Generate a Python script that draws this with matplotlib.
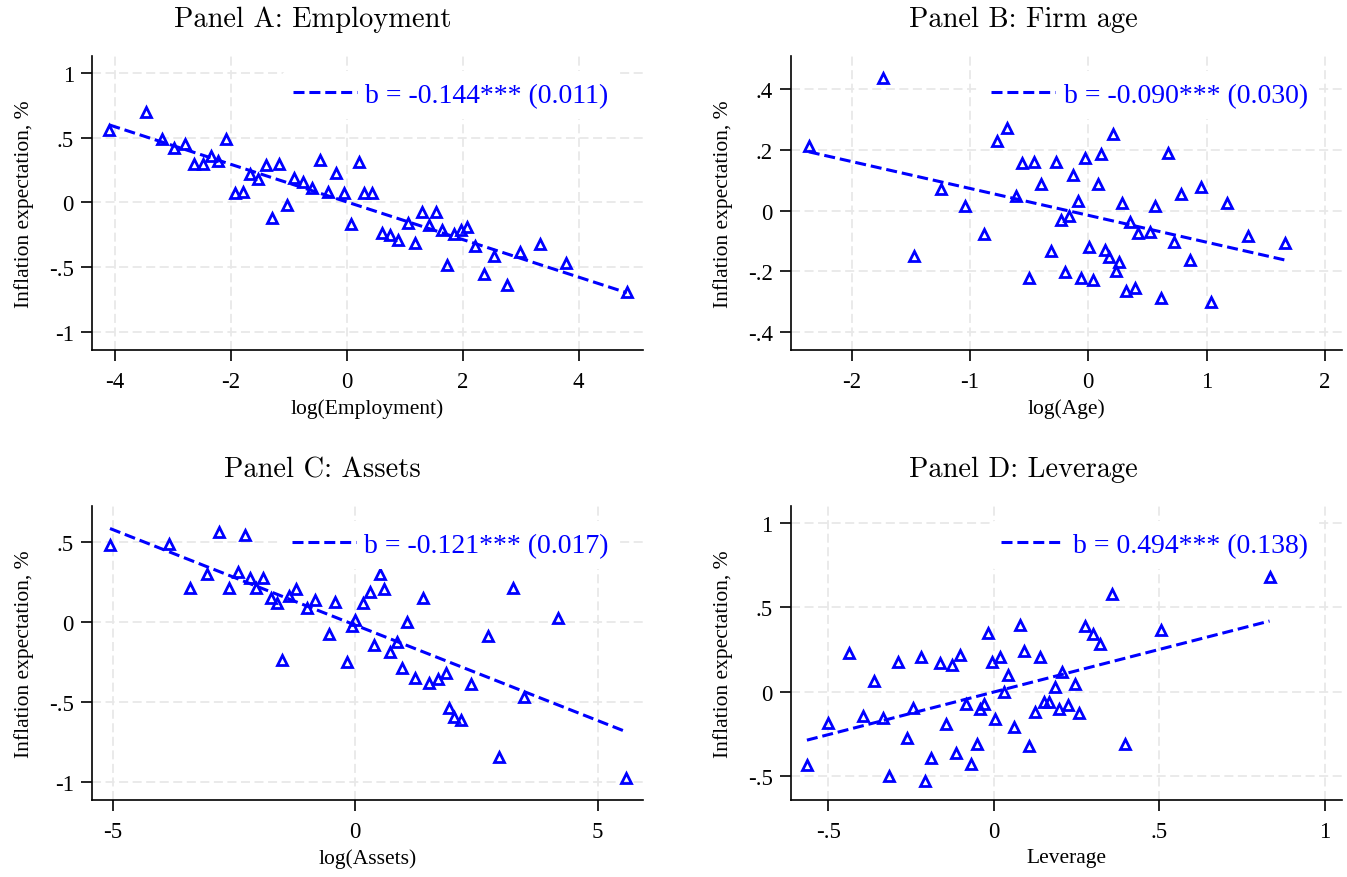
import numpy as np
import matplotlib
matplotlib.use("Agg")
import matplotlib.pyplot as plt
from matplotlib.ticker import FuncFormatter

# binned scatter points
emp_x = [-4.10, -3.47, -3.19, -2.99, -2.79, -2.64, -2.49, -2.35, -2.22, -2.09,
         -1.94, -1.80, -1.68, -1.53, -1.40, -1.30, -1.17, -1.04, -0.92, -0.76,
         -0.61, -0.47, -0.33, -0.19, -0.05, 0.07, 0.20, 0.30, 0.44, 0.60,
         0.74, 0.89, 1.05, 1.18, 1.30, 1.42, 1.53, 1.64, 1.72, 1.84,
         1.97, 2.08, 2.21, 2.37, 2.53, 2.77, 2.98, 3.34, 3.78, 4.83]
emp_y = [0.56, 0.70, 0.49, 0.42, 0.45, 0.30, 0.30, 0.36, 0.32, 0.49,
         0.07, 0.08, 0.22, 0.18, 0.29, -0.12, 0.30, -0.02, 0.19, 0.155,
         0.11, 0.33, 0.08, 0.23, 0.075, -0.165, 0.31, 0.075, 0.075, -0.235,
         -0.25, -0.29, -0.16, -0.31, -0.075, -0.175, -0.075, -0.21, -0.485, -0.24,
         -0.215, -0.19, -0.34, -0.55, -0.41, -0.64, -0.38, -0.32, -0.465, -0.69]

age_x = [-2.363, -1.738, -1.477, -1.243, -1.040, -0.878, -0.773, -0.686, -0.613, -0.559,
         -0.503, -0.456, -0.402, -0.315, -0.273, -0.228, -0.194, -0.160, -0.132, -0.084,
         -0.062, -0.028, 0.008, 0.042, 0.079, 0.107, 0.143, 0.172, 0.206, 0.236,
         0.259, 0.282, 0.318, 0.352, 0.394, 0.419, 0.521, 0.560, 0.611, 0.670,
         0.726, 0.788, 0.864, 0.949, 1.038, 1.171, 1.348, 1.660]
age_y = [0.212, 0.437, -0.150, 0.072, 0.016, -0.076, 0.231, 0.274, 0.049, 0.157,
         -0.221, 0.161, 0.088, -0.133, 0.162, -0.030, -0.203, -0.016, 0.117, 0.033,
         -0.221, 0.173, -0.119, -0.227, 0.088, 0.188, -0.129, -0.152, 0.252, -0.198,
         -0.170, 0.024, -0.266, -0.038, -0.256, -0.074, -0.071, 0.015, -0.289, 0.189,
         -0.103, 0.054, -0.163, 0.077, -0.300, 0.024, -0.084, -0.105]

assets_x = [-5.056, -3.833, -3.412, -3.049, -2.802, -2.602, -2.423, -2.278, -2.169, -2.052,
            -1.901, -1.736, -1.619, -1.503, -1.359, -1.221, -0.988, -0.829, -0.546, -0.416,
            -0.175, -0.066, 0.002, 0.167, 0.305, 0.388, 0.511, 0.600, 0.718, 0.868,
            0.959, 1.062, 1.233, 1.404, 1.528, 1.701, 1.872, 1.940, 2.037, 2.181,
            2.388, 2.732, 2.965, 3.254, 3.487, 4.188, 5.584]
assets_y = [0.484, 0.490, 0.213, 0.302, 0.567, 0.217, 0.313, 0.547, 0.279, 0.217,
            0.279, 0.152, 0.121, -0.236, 0.167, 0.209, 0.088, 0.140, -0.073, 0.127,
            -0.247, -0.021, 0.013, 0.121, 0.192, -0.142, 0.304, 0.208, -0.184, -0.125,
            -0.288, 0.000, -0.351, 0.154, -0.380, -0.357, -0.316, -0.535, -0.591, -0.610,
            -0.386, -0.086, -0.842, 0.215, -0.470, 0.029, -0.977]

lev_x = [-0.565, -0.501, -0.438, -0.396, -0.363, -0.336, -0.317, -0.291, -0.262, -0.245,
         -0.221, -0.207, -0.189, -0.163, -0.145, -0.128, -0.113, -0.103, -0.085, -0.070,
         -0.052, -0.041, -0.030, -0.019, -0.005, 0.004, 0.019, 0.032, 0.043, 0.062,
         0.079, 0.091, 0.105, 0.125, 0.139, 0.150, 0.166, 0.184, 0.198, 0.206,
         0.225, 0.244, 0.256, 0.274, 0.299, 0.321, 0.356, 0.396, 0.504, 0.833]
lev_y = [-0.433, -0.187, 0.231, -0.146, 0.063, -0.154, -0.498, 0.178, -0.273, -0.095,
         0.207, -0.528, -0.395, 0.172, -0.193, 0.158, -0.365, 0.219, -0.071, -0.429,
         -0.308, -0.104, -0.071, 0.348, 0.178, -0.162, 0.204, -0.004, 0.101, -0.207,
         0.395, 0.241, -0.322, -0.122, 0.204, -0.061, -0.061, 0.030, -0.104, 0.119,
         -0.077, 0.046, -0.124, 0.389, 0.344, 0.281, 0.581, -0.312, 0.366, 0.682]

titles = ["Panel A: Employment", "Panel B: Firm age", "Panel C: Assets", "Panel D: Leverage"]
xlabels = ["log(Employment)", "log(Age)", "log(Assets)", "Leverage"]
ylabel = "Inflation expectation, %"
coef_labels = ["b = -0.144*** (0.011)", "b = -0.090*** (0.030)",
               "b = -0.121*** (0.017)", "b = 0.494*** (0.138)"]
xticks = [[-4, -2, 0, 2, 4], [-2, -1, 0, 1, 2], [-5, 0, 5], [-0.5, 0, 0.5, 1]]
yticks = [[-1, -0.5, 0, 0.5, 1], [-0.4, -0.2, 0, 0.2, 0.4], [-1, -0.5, 0, 0.5], [-0.5, 0, 0.5, 1]]
xlims = [(-4.40, 5.11), (-2.516, 2.145), (-5.427, 5.934), (-0.614, 1.052)]
ylims = [(-1.137, 1.131), (-0.458, 0.510), (-1.111, 0.728), (-0.640, 1.101)]

BLUE = "#0000ff"
SERIF = "Liberation Serif"


def stata_fmt(v, pos):
    s = f"{v:g}"
    return s.replace("0.", ".")


def draw_panel(ax, x, y, i):
    x = np.array(x)
    y = np.array(y)
    ax.plot(x, y, linestyle="none", marker="^", ms=7, mfc="none", mec=BLUE, mew=2.0, zorder=3)
    b, a = np.polyfit(x, y, 1)
    xs = np.array([x.min(), x.max()])
    ax.plot(xs, a + b * xs, color=BLUE, lw=2.2, linestyle=(0, (3.6, 1.6)), label=coef_labels[i], zorder=4)

    ax.set_xlim(xlims[i])
    ax.set_ylim(ylims[i])
    ax.set_xticks(xticks[i])
    ax.set_yticks(yticks[i])
    ax.xaxis.set_major_formatter(FuncFormatter(stata_fmt))
    ax.yaxis.set_major_formatter(FuncFormatter(stata_fmt))
    ax.grid(True, color="#e8e8e8", lw=1.3, linestyle=(0, (5, 2.5)), zorder=0)
    ax.set_axisbelow(True)
    for side in ["top", "right"]:
        ax.spines[side].set_visible(False)
    for side in ["left", "bottom"]:
        ax.spines[side].set_linewidth(1.2)
    ax.tick_params(direction="out", length=8, width=1.2, labelsize=16.5, pad=7)
    ax.tick_params(axis="y", pad=5)
    for lab in ax.get_xticklabels() + ax.get_yticklabels():
        lab.set_family(SERIF)

    ax.set_xlabel(xlabels[i], family=SERIF, fontsize=15.5)
    ax.xaxis.set_label_coords(0.5, -0.165)
    ax.set_ylabel(ylabel, family=SERIF, fontsize=15.5)
    ax.yaxis.set_label_coords(-0.105, 0.5)

    leg = ax.legend(loc="center right", bbox_to_anchor=(0.958, 0.867), frameon=True,
                    handlelength=2.3, handletextpad=0.3, borderpad=0.4,
                    borderaxespad=0, prop={"family": SERIF, "size": 20})
    leg.get_frame().set_facecolor("white")
    leg.get_frame().set_edgecolor("none")
    leg.get_frame().set_alpha(1)
    for t in leg.get_texts():
        t.set_color(BLUE)


fig = plt.figure(figsize=(13.47, 8.78), dpi=100)
W, H = 1347, 878
boxes = [(92, 643, 57, 350.7), (790.7, 1342, 57, 350.7),
         (92, 643, 507, 800.7), (790.7, 1342, 507, 800.7)]
data = [(emp_x, emp_y), (age_x, age_y), (assets_x, assets_y), (lev_x, lev_y)]
title_pos = [(313, 20), (1023, 20), (322, 470), (1023, 470)]

for i in range(4):
    l, r, t, btm = boxes[i]
    ax = fig.add_axes([l / W, 1 - btm / H, (r - l) / W, (btm - t) / H])
    draw_panel(ax, data[i][0], data[i][1], i)
    tx, ty = title_pos[i]
    fig.text(tx / W, 1 - ty / H, titles[i], family="cmr10", fontsize=20.5, ha="center", va="center")

fig.savefig("out.png", dpi=100, facecolor="white")
